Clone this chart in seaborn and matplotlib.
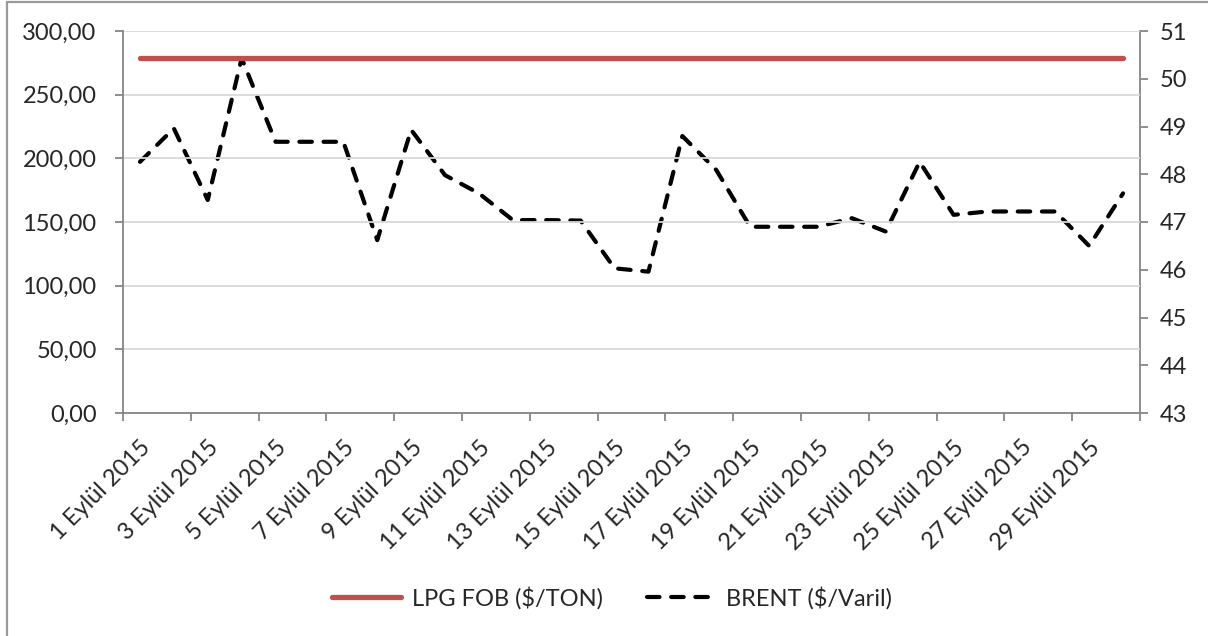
import numpy as np
import pandas as pd
import matplotlib.pyplot as plt
import seaborn as sns
from matplotlib.lines import Line2D
from matplotlib.ticker import FixedLocator, FuncFormatter

# values (September 2015, daily)
days = list(range(1, 31))
lpg_fob = [279.0] * 30
brent = [48.26, 48.96, 47.46, 50.43, 48.68, 48.68, 48.68, 46.62, 48.93, 47.98,
         47.60, 47.04, 47.04, 47.03, 46.03, 45.96, 48.80, 48.09, 46.90, 46.90,
         46.90, 47.08, 46.80, 48.26, 47.15, 47.22, 47.22, 47.22, 46.50, 47.60]
label_days = list(range(1, 30, 2))
left_ticks = [0, 50, 100, 150, 200, 250, 300]
right_ticks = list(range(43, 52))

FS = 17


def main():
    sns.set_style("white")
    plt.rcParams["font.family"] = ["Lato", "DejaVu Sans"]
    grey = "#868686"

    df = pd.DataFrame({"day": days, "lpg": lpg_fob, "brent": brent})

    fig = plt.figure(figsize=(12.08, 6.36), dpi=100)
    ax = fig.add_axes([123 / 1208, 1 - 413 / 636, (1140 - 123) / 1208, (413 - 31) / 636])
    ax2 = ax.twinx()

    sns.lineplot(data=df, x="day", y="lpg", ax=ax, color="#C0504D", lw=3.8,
                 solid_capstyle="round", label="LPG FOB ($/TON)", legend=False, zorder=3)
    sns.lineplot(data=df, x="day", y="brent", ax=ax2, color="black", lw=3.0,
                 dashes=False, label="BRENT ($/Varil)", legend=False)
    line = ax2.get_lines()[0]
    line.set_dashes([3.0, 2.8])
    line.set_dash_capstyle("round")
    line.set_solid_joinstyle("round")

    ax.set_xlim(0.5, 30.5)
    ax.set_ylim(0, 300)
    ax2.set_ylim(43, 51)

    ax.yaxis.set_major_locator(FixedLocator(left_ticks))
    ax.yaxis.set_major_formatter(FuncFormatter(lambda v, p: f"{v:.2f}".replace(".", ",")))
    ax2.yaxis.set_major_locator(FixedLocator(right_ticks))

    # category boundaries carry the tick marks, labels sit at the day centres
    ax.xaxis.set_major_locator(FixedLocator(np.arange(0.5, 31, 2)))
    ax.xaxis.set_major_formatter(FuncFormatter(lambda v, p: ""))
    ax.set_xticks(label_days, [f"{d} Eylül 2015" for d in label_days], minor=True)
    ax.tick_params(axis="x", which="minor", length=0, pad=17, labelsize=FS)
    for t in ax.get_xticklabels(minor=True):
        t.set_rotation(45)
        t.set_ha("right")
        t.set_va("top")
        t.set_rotation_mode("anchor")

    ax.tick_params(axis="x", which="major", direction="out", length=6, color=grey, width=1.3, bottom=True)
    ax.tick_params(axis="y", direction="out", length=6, color=grey, width=1.3, labelsize=FS, pad=13, left=True)
    ax2.tick_params(axis="y", direction="out", length=6, color=grey, width=1.3, labelsize=FS, pad=8, right=True)

    ax.grid(axis="y", color="#d9d9d9", lw=1.3)
    ax.set_axisbelow(True)
    for a in (ax, ax2):
        for s in a.spines.values():
            s.set_visible(False)
        a.set_xlabel("")
        a.set_ylabel("")
    for a, side in ((ax, "left"), (ax, "bottom"), (ax2, "right")):
        a.spines[side].set_visible(True)
        a.spines[side].set_color(grey)
        a.spines[side].set_linewidth(1.3)
    ax.set_zorder(ax2.get_zorder() + 1)
    ax.patch.set_visible(False)

    handles = [Line2D([], [], color="#C0504D", lw=3.8, solid_capstyle="round"),
               Line2D([], [], color="black", lw=3.0, dashes=[3.0, 2.8], dash_capstyle="round")]
    fig.legend(handles, ["LPG FOB ($/TON)", "BRENT ($/Varil)"], loc="center",
               bbox_to_anchor=(0.507, 1 - 598 / 636), ncol=2, frameon=False,
               fontsize=FS, handlelength=2.9, columnspacing=1.9, handletextpad=0.45)

    # chart-area frame, only its left and top edges are inside the picture
    fig.add_artist(Line2D([6.5 / 1208, 6.5 / 1208], [0, 1 - 1.5 / 636], color="#9a9a9a", lw=1.6))
    fig.add_artist(Line2D([6.5 / 1208, 1], [1 - 1.5 / 636, 1 - 1.5 / 636], color="#9a9a9a", lw=1.6))

    fig.savefig("out.png", dpi=100)


if __name__ == "__main__":
    main()
